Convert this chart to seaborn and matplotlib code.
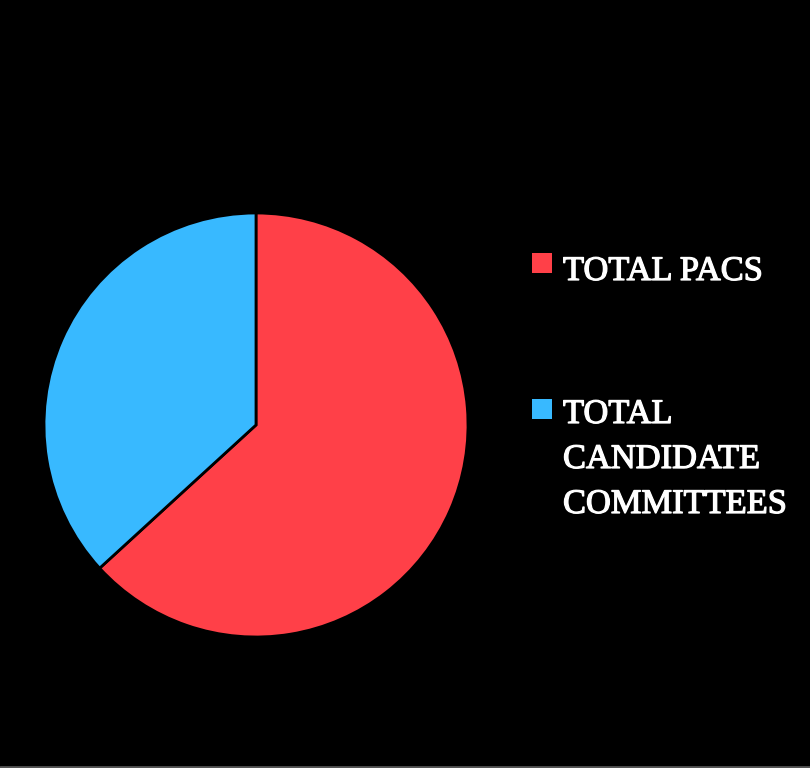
import matplotlib
matplotlib.use("Agg")
import matplotlib.pyplot as plt
import matplotlib.patheffects as pe
from matplotlib.patches import Rectangle
from matplotlib.lines import Line2D
import seaborn as sns

# Data
labels = ["TOTAL PACS", "TOTAL\nCANDIDATE\nCOMMITTEES"]
shares = [63.2, 36.8]
colors = ["#FF4048", "#38B9FF"]

sns.set_theme(style="dark")
plt.rcParams['font.family'] = ['Liberation Serif', 'DejaVu Serif']

W, H = 810, 768
fig = plt.figure(figsize=(W / 100, H / 100), dpi=100, facecolor="black")

# Pie axes: centre ~(256, 425) px, radius ~212 px
r, cx, cy = 212, 256, 425
ax = fig.add_axes([(cx - r) / W, (H - cy - r) / H, 2 * r / W, 2 * r / H])
ax.set_facecolor("black")

wedges, _ = ax.pie(
    shares,
    colors=colors,
    startangle=90,
    counterclock=False,
    radius=1.0,
    wedgeprops={"edgecolor": "black", "linewidth": 2},
)
ax.set_aspect("equal")
ax.set_xlim(-1.0, 1.0)
ax.set_ylim(-1.0, 1.0)
ax.axis("off")

# Legend drawn by hand so the key sits beside the first line of each label
key_tops = [253, 399]
first_baselines = [280, 423]
line_step = 45
for color, label, top, base in zip(colors, labels, key_tops, first_baselines):
    fig.add_artist(Rectangle((532 / W, 1 - (top + 20) / H), 20 / W, 20 / H,
                             transform=fig.transFigure, facecolor=color,
                             edgecolor="none"))
    for i, line in enumerate(label.split("\n")):
        fig.text(563 / W, 1 - (base + i * line_step) / H, line,
                 color="white", fontsize=24.8, va="baseline", ha="left",
                 path_effects=[pe.withStroke(linewidth=0.9, foreground="white")])

# thin grey rule along the bottom edge
fig.add_artist(Line2D([0, 1], [1.5 / H, 1.5 / H], transform=fig.transFigure,
                      color="#555555", linewidth=2))

fig.savefig("out.png", dpi=100, facecolor="black")
